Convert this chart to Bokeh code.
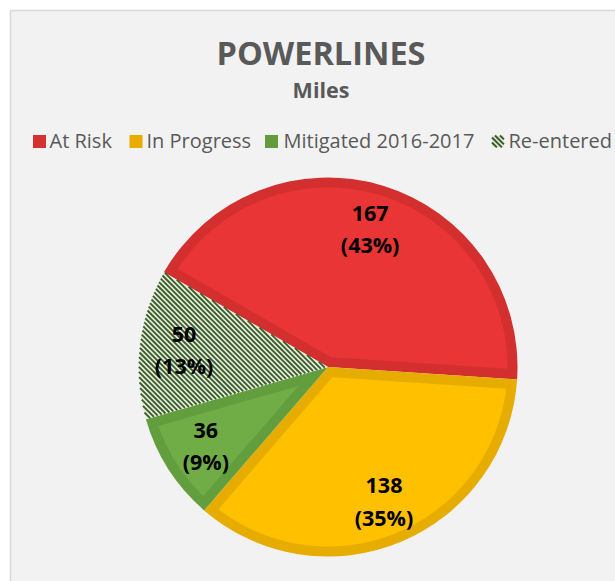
import numpy as np
from bokeh.plotting import figure
from bokeh.models import Range1d, ColumnDataSource
from bokeh.embed import file_html
from bokeh.resources import INLINE
from bokeh.core.properties import value

# ---------------- data ----------------
categories = ["At Risk", "In Progress", "Mitigated 2016-2017", "Re-entered"]
miles = [167, 138, 36, 50]
title_text = "POWERLINES"
subtitle_text = "Miles"

# ---------------- style ----------------
fill_colors = ["#E93535", "#FFC000", "#70AD47", "#E4EDDB"]
border_colors = ["#D32F2F", "#E6AD00", "#639E3E", "#E4EDDB"]
legend_colors = ["#D63131", "#E8AD00", "#629C3C", "#E4EDDB"]
hatched = [False, False, False, True]
HATCH_COLOR = "#3A5A2A"
TEXT_GREY = "#595959"
FONT = "Open Sans"
BL_K = 0.37  # renderer baseline correction (fraction of font size)

W, H = 615, 581


def X(px):
    return px


def Y(py):
    return H - py


def Yt(py, size):
    return Y(py - BL_K * size)


cx, cy = X(327.5), Y(366.5)
R = 189.5
BORDER = 10.0
LABEL_R = 145.0
first_angle = np.deg2rad(150.0)

vals = np.array(miles, dtype=float)
total = vals.sum()
frac = vals / total
cum = np.cumsum(frac)
starts = first_angle - 2 * np.pi * np.concatenate([[0.0], cum[:-1]])
ends = first_angle - 2 * np.pi * cum
mids = (starts + ends) / 2


def inset(a1, a2):
    theta = a1 - a2
    d = BORDER / np.sin(theta / 2)
    bis = (a1 + a2) / 2
    rho = R - BORDER
    delta = np.arcsin(BORDER / rho)
    arc = np.linspace(a1 - delta, a2 + delta, 240)
    xs = [cx + d * np.cos(bis)] + list(cx + rho * np.cos(arc))
    ys = [cy + d * np.sin(bis)] + list(cy + rho * np.sin(arc))
    return xs, ys


def stripes(inside, xmin, xmax, ymin, ymax, spacing, step=0.2):
    """diagonal '\\' stripes (x + y = c) clipped to a region given by inside()."""
    x0s, y0s, x1s, y1s = [], [], [], []
    xs = np.arange(xmin, xmax + step, step)
    for c in np.arange(xmin + ymin - spacing, xmax + ymax + spacing, spacing):
        ys = c - xs
        m = inside(xs, ys) & (ys >= ymin - 1) & (ys <= ymax + 1)
        if not m.any():
            continue
        idx = np.flatnonzero(m)
        breaks = np.flatnonzero(np.diff(idx) > 1)
        run_starts = np.concatenate([[idx[0]], idx[breaks + 1]])
        run_ends = np.concatenate([idx[breaks], [idx[-1]]])
        for a, b in zip(run_starts, run_ends):
            x0s.append(xs[a]); y0s.append(ys[a])
            x1s.append(xs[b]); y1s.append(ys[b])
    return x0s, y0s, x1s, y1s


def wedge_inside(a1, a2):
    span = a1 - a2

    def f(x, y):
        dx, dy = x - cx, y - cy
        r = np.hypot(dx, dy)
        ang = np.arctan2(dy, dx)
        rel = np.mod(a1 - ang, 2 * np.pi)
        return (r <= R - 0.3) & (rel <= span)
    return f


p = figure(width=W, height=H, x_range=Range1d(0, W), y_range=Range1d(0, H),
           output_backend="svg", toolbar_location=None, min_border=0,
           x_axis_type=None, y_axis_type=None)
p.grid.visible = False
p.outline_line_color = None
p.background_fill_color = "white"
p.border_fill_color = "white"

# chart panel
p.quad(left=X(10), right=X(700), top=Y(10), bottom=Y(700),
       fill_color="#F2F2F2", line_color="#D9D9D9", line_width=1.5)

# slices
solid_idx = [i for i in range(len(miles)) if not hatched[i]]
hatch_idx = [i for i in range(len(miles)) if hatched[i]]

src_solid = ColumnDataSource(dict(
    start=[starts[i] for i in solid_idx], end=[ends[i] for i in solid_idx],
    border=[border_colors[i] for i in solid_idx]))
p.wedge(x=cx, y=cy, radius=R, start_angle="start", end_angle="end",
        direction="clock", fill_color="border", line_color=None, source=src_solid)

xs_in, ys_in = [], []
for i in solid_idx:
    a, b = inset(starts[i], ends[i])
    xs_in.append(a)
    ys_in.append(b)
p.patches(xs=xs_in, ys=ys_in, fill_color=[fill_colors[i] for i in solid_idx],
          line_color=None)

src_hatch = ColumnDataSource(dict(
    start=[starts[i] for i in hatch_idx], end=[ends[i] for i in hatch_idx],
    fill=[fill_colors[i] for i in hatch_idx]))
p.wedge(x=cx, y=cy, radius=R, start_angle="start", end_angle="end",
        direction="clock", fill_color="fill", line_color=None, source=src_hatch)
for i in hatch_idx:
    s = stripes(wedge_inside(starts[i], ends[i]), cx - R, cx + R, cy - R, cy + R, 5.0)
    p.segment(x0=s[0], y0=s[1], x1=s[2], y1=s[3], line_color=HATCH_COLOR,
              line_width=1.8, line_cap="butt")

# data labels
LBL = 21.5
lx = cx + LABEL_R * np.cos(mids)
ly = cy + LABEL_R * np.sin(mids)
val_txt = [str(m) for m in miles]
pct_txt = ["(%d%%)" % round(100 * f) for f in frac]
p.text(x=lx, y=ly + 7 + BL_K * LBL, text=val_txt, text_font=value(FONT),
       text_font_style="bold", text_font_size="%gpx" % LBL, text_color="black",
       text_align="center", text_baseline="alphabetic")
p.text(x=lx, y=ly + 7 - 31.5 + BL_K * LBL, text=pct_txt, text_font=value(FONT),
       text_font_style="bold", text_font_size="%gpx" % LBL, text_color="black",
       text_align="center", text_baseline="alphabetic")

# titles
TS, SS = 32.5, 21.5
p.text(x=[X(320.5)], y=[Yt(64.3, TS)], text=[title_text], text_font=value(FONT),
       text_font_style="bold", text_font_size="%gpx" % TS, text_color=TEXT_GREY,
       text_align="center", text_baseline="alphabetic")
p.text(x=[X(320.5)], y=[Yt(96.7, SS)], text=[subtitle_text], text_font=value(FONT),
       text_font_style="bold", text_font_size="%gpx" % SS, text_color=TEXT_GREY,
       text_align="center", text_baseline="alphabetic")

# legend (manual)
LS = 20.0
sw_left = [32.5, 129.0, 264.5, 491.5]
sw_size = 13.0
txt_left = [49.0, 146.0, 283.0, 508.0]
leg_y = 141.0
solid_leg = [i for i in range(len(categories)) if not hatched[i]]
p.rect(x=[X(sw_left[i] + sw_size / 2) for i in solid_leg], y=[Y(leg_y)] * len(solid_leg),
       width=sw_size, height=sw_size, fill_color=[legend_colors[i] for i in solid_leg],
       line_color=None)
hatch_leg = [i for i in range(len(categories)) if hatched[i]]
for i in hatch_leg:
    l, r = X(sw_left[i]), X(sw_left[i] + 12)
    b, t = Y(leg_y + 6), Y(leg_y - 6)
    p.quad(left=l, right=r, bottom=b, top=t, fill_color=legend_colors[i], line_color=None)

    def sq_inside(x, y, l=l, r=r, b=b, t=t):
        return (x >= l) & (x <= r) & (y >= b) & (y <= t)
    s = stripes(sq_inside, l, r, b, t, 5.0, step=0.1)
    p.segment(x0=s[0], y0=s[1], x1=s[2], y1=s[3], line_color=HATCH_COLOR,
              line_width=2.0, line_cap="butt")
p.text(x=[X(t) for t in txt_left], y=[Yt(147.7, LS)] * len(categories), text=categories,
       text_font=value(FONT), text_font_size="%gpx" % LS, text_color=TEXT_GREY,
       text_align="left", text_baseline="alphabetic")

open("out.html", "w").write(file_html(p, INLINE))
